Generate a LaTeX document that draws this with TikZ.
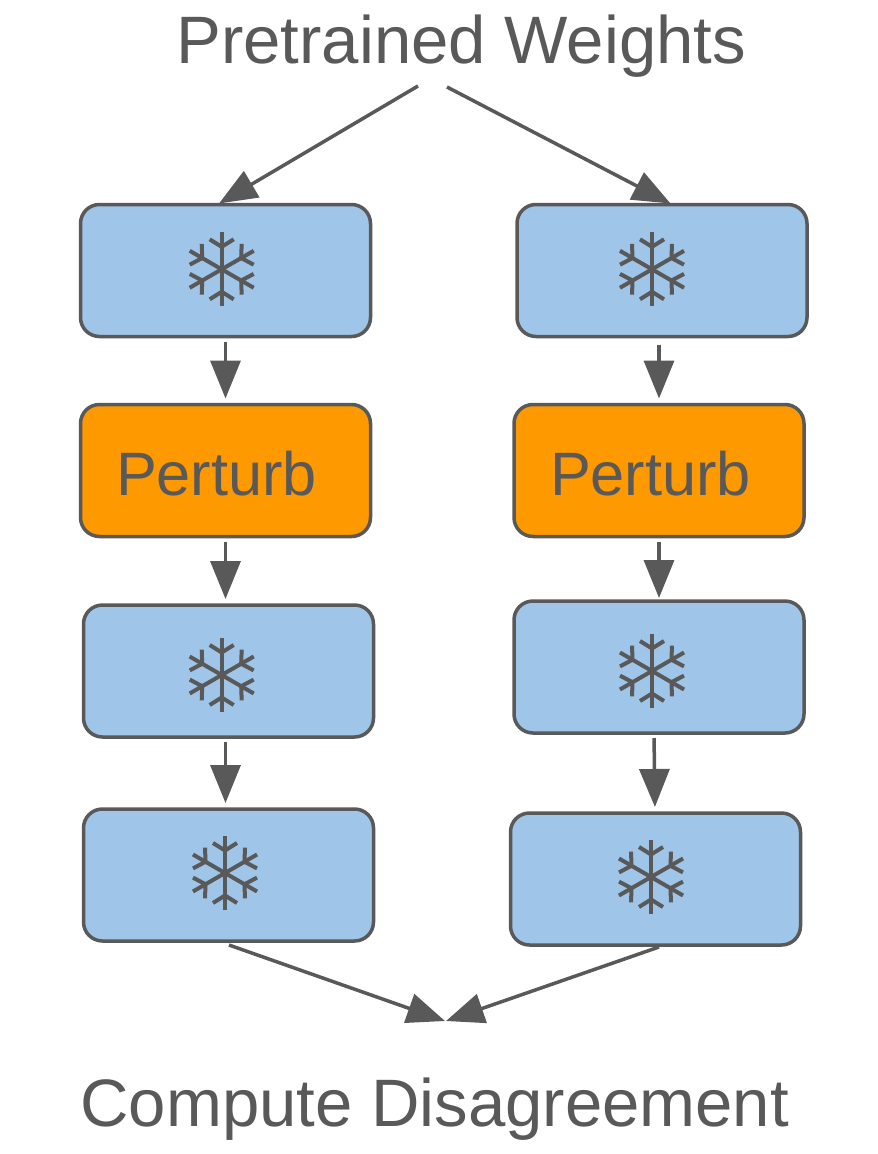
\documentclass[tikz,border=0pt]{standalone}
\usepackage{fontspec}
\setmainfont{Liberation Sans}
\usetikzlibrary{arrows.meta}
\definecolor{ink}{HTML}{595959}
\definecolor{frozen}{HTML}{9FC5E8}
\definecolor{perturbfill}{HTML}{FF9900}
\tikzset{
  boxbase/.style={draw=ink,line width=3.5pt,rounded corners=19pt,minimum width=290pt,minimum height=132pt,inner sep=0pt,outer sep=0pt},
  bluebox/.style={boxbase,fill=frozen},
  orangebox/.style={boxbase,fill=perturbfill},
  label/.style={text=ink,inner sep=0pt,outer sep=0pt,anchor=base west},
  bigtext/.style={label,font=\fontsize{67.1}{80}\selectfont},
  boxtext/.style={label,font=\fontsize{61.3}{72}\selectfont},
  conn/.style={draw=ink,line width=3.5pt,-{Triangle[length=38pt,width=30pt]}},
  vconn/.style={conn,shorten <=5pt,shorten >=6pt},
  flake/.pic={
    \foreach \a in {0,60,...,300}{
      \draw[ink,line width=4pt,rotate=\a] (0,0) -- (0,-37);
      \draw[ink,line width=4pt,rotate=\a] (-12,-30) -- (0,-22.5) -- (12,-30);
    }
  }
}
\begin{document}
\begin{tikzpicture}[x=1pt,y=-1pt]
\useasboundingbox (0,0) rectangle (878,1154);
% texts
\node[bigtext] (top) at (176.5,63) {Pretrained Weights};
\node[bigtext] (bottom) at (80.5,1126) {Compute Disagreement};
% boxes
\node[bluebox] (l1) at (225.5,270.5) {};
\node[bluebox] (r1) at (662,270.5) {};
\node[orangebox] (l2) at (225.5,470.5) {};
\node[orangebox] (r2) at (659,470.5) {};
\node[bluebox] (l3) at (228.5,671) {};
\node[bluebox] (r3) at (659,667) {};
\node[bluebox] (l4) at (228.5,875) {};
\node[bluebox] (r4) at (655.5,879) {};
\node[boxtext] (lp) at (116,495) {Perturb};
\node[boxtext] (rp) at (550,495) {Perturb};
% snowflakes
\pic at (221.7,269.3) {flake};
\pic at (652,269.3) {flake};
\pic at (221.7,675) {flake};
\pic at (652,671) {flake};
\pic at (225,873) {flake};
\pic at (651,877) {flake};
% free ends
\coordinate (topL) at (418,86);
\coordinate (topR) at (447,87);
\coordinate (mergeL) at (445,1021);
\coordinate (mergeR) at (446,1021);
% connectors
\draw[conn] (topL) -- ([xshift=-6.5pt,yshift=1pt]l1.north);
\draw[conn] (topR) -- ([xshift=8.5pt,yshift=1pt]r1.north);
\draw[vconn] (l1.south) -- (l2.north);
\draw[vconn,shorten <=8pt] ([xshift=-3pt]r1.south) -- (r2.north);
\draw[vconn] (l2.south) -- ([xshift=-3pt]l3.north);
\draw[vconn,shorten >=3pt] (r2.south) -- (r3.north);
\draw[vconn] ([xshift=-3pt]l3.south) -- ([xshift=-3pt]l4.north);
\draw[vconn] ([xshift=-5pt]r3.south) -- ([xshift=-.5pt]r4.north);
\draw[conn] ([xshift=.5pt,yshift=-4pt]l4.south) -- (mergeL);
\draw[conn] ([xshift=3.5pt,yshift=-2pt]r4.south) -- (mergeR);
\end{tikzpicture}
\end{document}
